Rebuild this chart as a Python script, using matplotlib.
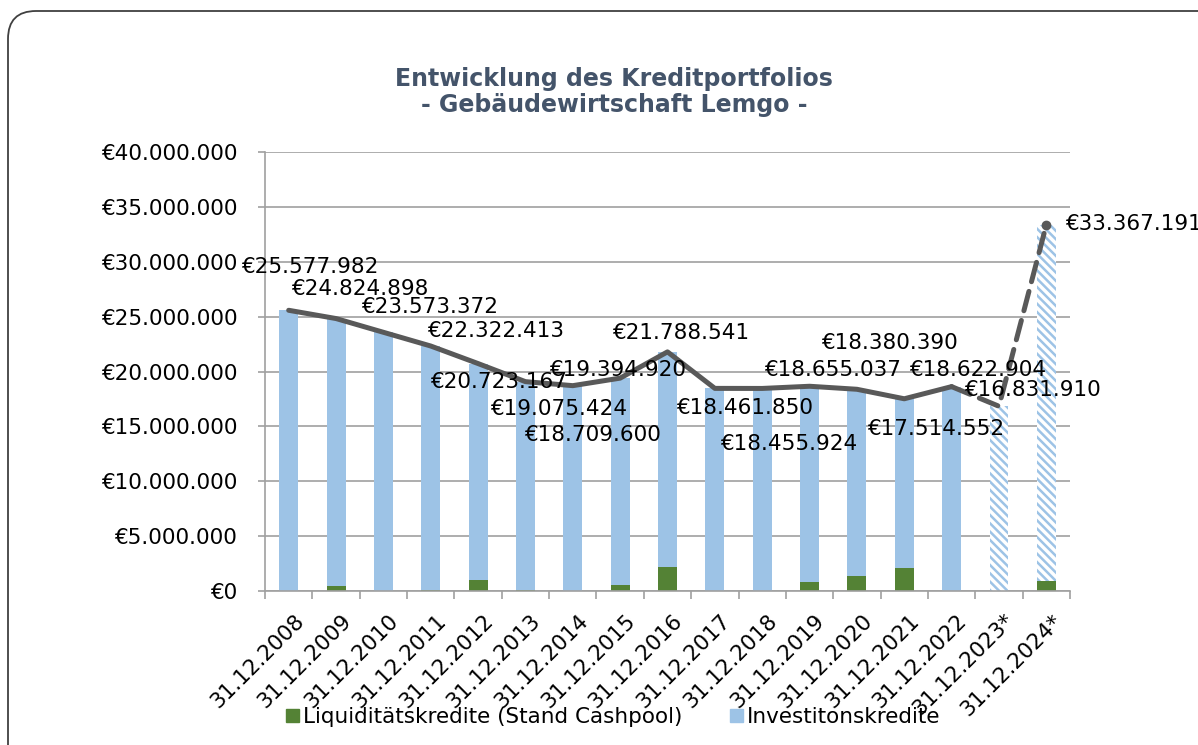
import matplotlib.pyplot as plt
import matplotlib.transforms as mtransforms
from matplotlib.patches import FancyBboxPatch, Patch
from matplotlib.ticker import FuncFormatter

plt.rcParams['font.family'] = ['DejaVu Sans']
plt.rcParams['hatch.linewidth'] = 1.8

dates = ['31.12.2008', '31.12.2009', '31.12.2010', '31.12.2011', '31.12.2012',
         '31.12.2013', '31.12.2014', '31.12.2015', '31.12.2016', '31.12.2017',
         '31.12.2018', '31.12.2019', '31.12.2020', '31.12.2021', '31.12.2022',
         '31.12.2023*', '31.12.2024*']
totals = [25577982, 24824898, 23573372, 22322413, 20723167, 19075424, 18709600,
          19394920, 21788541, 18461850, 18455924, 18655037, 18380390, 17514552,
          18622904, 16831910, 33367191]
liquidity = [0, 460000, 0, 100000, 1000000, 50000, 0, 550000, 2200000, 0, 0,
             800000, 1400000, 2100000, 0, 0, 900000]
forecast = [False] * 15 + [True, True]

# label offsets in pixels (dx, dy) relative to the line point
label_offsets = [(21, 43), (24, 30), (46, 25), (65, 15), (20, -18), (33, -27),
                 (20, -49), (-3, 8), (13, 19), (30, -20), (26, -56), (23, 16),
                 (32, 46), (31, -30), (26, 17), (33, 16), (19, 1)]

blue = '#9DC3E6'
green = '#548235'
line_col = '#595959'
grid_col = '#A0A0A0'

def euro(v):
    return '€' + f'{int(round(v)):,}'.replace(',', '.')

investment = [t - l for t, l in zip(totals, liquidity)]
x = list(range(len(dates)))

fig = plt.figure(figsize=(11.98, 7.45), dpi=100)
ax = fig.add_axes([265 / 1198, 1 - 591 / 745, 805 / 1198, 439 / 745])

w = 0.4
for i in x:
    ax.bar(i, liquidity[i], w, color=green, linewidth=0, zorder=2)
    if forecast[i]:
        ax.bar(i, investment[i], w, bottom=liquidity[i], color='white',
               edgecolor=blue, hatch='\\\\\\\\', linewidth=0, zorder=2)
    else:
        ax.bar(i, investment[i], w, bottom=liquidity[i], color=blue,
               linewidth=0, zorder=2)

ax.plot(x[:15], totals[:15], color=line_col, lw=3.6, zorder=3,
        solid_capstyle='round', solid_joinstyle='round')
ax.plot(x[14:], totals[14:], color=line_col, lw=3.6, zorder=3,
        dashes=(4, 2), dash_capstyle='round')
ax.plot(x[-1], totals[-1], 'o', color=line_col, ms=6, zorder=4)

for i in x:
    dx, dy = label_offsets[i]
    ha = 'left' if i == 16 else 'center'
    ax.annotate(euro(totals[i]), (i, totals[i]), xytext=(dx, dy),
                textcoords='offset pixels', ha=ha, va='center',
                fontsize=15.5, color='black', zorder=5, annotation_clip=False)

ax.set_xlim(-0.5, 16.5)
ax.set_ylim(0, 40000000)
ax.set_yticks(range(0, 40000001, 5000000))
ax.yaxis.set_major_formatter(FuncFormatter(lambda v, p: euro(v)))
ax.grid(axis='y', color=grid_col, lw=1.2, zorder=0)
ax.set_axisbelow(True)

ax.set_xticks(x)
ax.set_xticklabels(dates, rotation=45, ha='right', rotation_mode='anchor')
ax.set_xticks([i + 0.5 for i in range(-1, 17)], minor=True)
ax.tick_params(axis='x', which='major', length=0, pad=14, labelsize=15.5)
ax.tick_params(axis='x', which='minor', length=6, color=grid_col, width=1.2)
ax.tick_params(axis='y', length=5, color=grid_col, width=1.2, pad=15,
               labelsize=15.5)
shift = mtransforms.ScaledTranslation(5 / 100, 0, fig.dpi_scale_trans)
for lab in ax.get_xticklabels():
    lab.set_transform(lab.get_transform() + shift)

for s in ['top', 'right']:
    ax.spines[s].set_visible(False)
for s in ['left', 'bottom']:
    ax.spines[s].set_color(grid_col)
    ax.spines[s].set_linewidth(1.2)

fig.text(614 / 1198, 1 - 92 / 745,
         'Entwicklung des Kreditportfolios\n- Gebäudewirtschaft Lemgo -',
         ha='center', va='center', fontsize=17, fontweight='bold',
         color='#44546A', linespacing=1.15)

handles = [Patch(color=green, label='Liquiditätskredite (Stand Cashpool)'),
           Patch(color=blue, label='Investitonskredite')]
fig.legend(handles=handles, loc='center', bbox_to_anchor=(613 / 1198, 1 - 717 / 745),
           ncol=2, frameon=False, fontsize=15.5, handlelength=0.6,
           handleheight=0.6, handletextpad=0.2, columnspacing=2.2)

border = FancyBboxPatch((8, -60), 1260, 745 - 11 + 60,
                        boxstyle='round,pad=0,rounding_size=28',
                        transform=mtransforms.IdentityTransform(),
                        facecolor='none', edgecolor='#404040', lw=1.3)
fig.patches.append(border)

fig.savefig('out.png', dpi=100)
